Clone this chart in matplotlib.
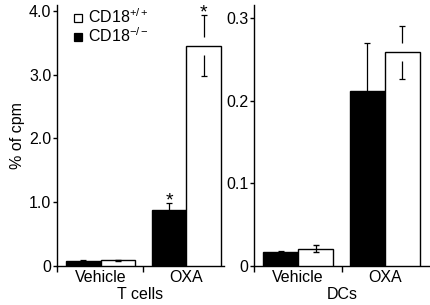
import numpy as np
import matplotlib
matplotlib.use("Agg")
import matplotlib.pyplot as plt
from matplotlib.lines import Line2D

plt.rcParams['font.family'] = ['Liberation Sans', 'DejaVu Sans']
plt.rcParams['font.size'] = 11.5
plt.rcParams['mathtext.fontset'] = 'custom'
plt.rcParams['mathtext.rm'] = 'Liberation Sans'

# data
groups = ["Vehicle", "OXA"]
tcell_ko = [0.08, 0.88]      # CD18-/- (black)
tcell_ko_err = [0.01, 0.10]
tcell_wt = [0.09, 3.45]      # CD18+/+ (white)
tcell_wt_err = [0.005, 0.48]
dc_ko = [0.017, 0.212]
dc_ko_err = [0.001, 0.058]
dc_wt = [0.021, 0.259]
dc_wt_err = [0.004, 0.032]
tcell_stars = [(1, "ko"), (1, "wt")]

t_yticks = [0, 1, 2, 3, 4]
t_yticklabels = ["0", "1.0", "2.0", "3.0", "4.0"]
d_yticks = [0, 0.1, 0.2, 0.3]
d_yticklabels = ["0", "0.1", "0.2", "0.3"]

W, H = 431, 305
fig = plt.figure(figsize=(W / 100, H / 100), dpi=100)
ax1 = fig.add_axes([57 / W, 39 / H, 167 / W, 261 / H])
ax2 = fig.add_axes([254 / W, 39 / H, 176 / W, 261 / H])

bw = 0.405
x = np.arange(len(groups))


def err_segments(ax, xs, vals, errs, both, gap):
    for xi, v, e in zip(xs, vals, errs):
        lo = v + gap if both else v
        ax.vlines(xi, lo, v + e, color="black", lw=0.9, zorder=4)
        ax.plot([xi], [v + e], marker="_", ms=4, mew=0.9, color="black", zorder=4)
        if both:
            ax.vlines(xi, v - e, v - gap, color="black", lw=0.9, zorder=4)
            ax.plot([xi], [v - e], marker="_", ms=4, mew=0.9, color="black", zorder=4)


def panel(ax, ko, ko_err, wt, wt_err, ymax, xmax, yticks, ylabels, xlabel):
    ax.bar(x - bw / 2, ko, bw, color="black", edgecolor="black", lw=1, zorder=3)
    ax.bar(x + bw / 2, wt, bw, color="white", edgecolor="black", lw=1, zorder=3)
    gap = ymax * 0.035
    small = [e < gap for e in wt_err]
    err_segments(ax, x - bw / 2, ko, ko_err, False, gap)
    for i in range(len(x)):
        if small[i]:
            ax.errorbar(x[i] + bw / 2, wt[i], yerr=wt_err[i], fmt="none",
                        ecolor="black", elinewidth=0.9, capsize=2, zorder=4)
        else:
            err_segments(ax, [x[i] + bw / 2], [wt[i]], [wt_err[i]], True, gap)
    ax.set_ylim(0, ymax)
    ax.set_xlim(-0.51, xmax)
    ax.set_yticks(yticks)
    ax.set_yticklabels(ylabels)
    ax.set_xticks(x)
    ax.set_xticklabels(groups)
    ax.tick_params(axis="x", length=0, pad=3)
    ax.set_xticks([-0.51, 0.5], minor=True)
    ax.tick_params(axis="x", which="minor", length=4, width=1, direction="out")
    ax.tick_params(axis="y", length=3, width=1, direction="out", pad=1)
    for s in ["top", "right"]:
        ax.spines[s].set_visible(False)
    for s in ["left", "bottom"]:
        ax.spines[s].set_linewidth(1)
    ax.set_xlabel(xlabel, labelpad=1)


panel(ax1, tcell_ko, tcell_ko_err, tcell_wt, tcell_wt_err, 4.09, 1.44,
      t_yticks, t_yticklabels, "T cells")
panel(ax2, dc_ko, dc_ko_err, dc_wt, dc_wt_err, 0.316, 1.52,
      d_yticks, d_yticklabels, "DCs")
ax1.set_ylabel("% of cpm", labelpad=3)

# significance stars
for gi, which in tcell_stars:
    if which == "ko":
        xs, top = gi - bw / 2, tcell_ko[gi] + tcell_ko_err[gi]
    else:
        xs, top = gi + bw / 2, tcell_wt[gi] + tcell_wt_err[gi]
    ax1.annotate("*", (xs, top), xytext=(0, -1.5), textcoords="offset points",
                 ha="center", va="baseline", fontsize=14)

handles = [
    Line2D([], [], marker="s", ls="none", mfc="white", mec="black", ms=6, mew=0.9),
    Line2D([], [], marker="s", ls="none", mfc="black", mec="black", ms=6, mew=0.9),
]
ax1.legend(handles, ["CD18$^{+/+}$", "CD18$^{-/-}$"], loc="upper left",
           frameon=False, handlelength=0.6, handletextpad=0.3,
           labelspacing=0.0, borderaxespad=0.1, bbox_to_anchor=(0.05, 1.02))

fig.savefig("out.png", dpi=100)
